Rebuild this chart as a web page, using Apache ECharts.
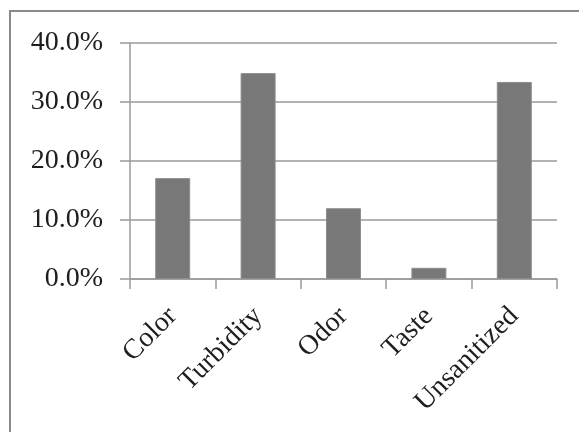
<!DOCTYPE html>
<html>
<head>
<meta charset="utf-8">
<script src="https://cdn.jsdelivr.net/npm/echarts@6/dist/echarts.min.js"></script>
<style>
  html, body { margin: 0; padding: 0; background: #fff; }
  #chart { width: 579px; height: 432px; }
</style>
</head>
<body>
<div id="chart"></div>
<script>
// Water quality complaints, share of respondents
const categories = ['Color', 'Turbidity', 'Odor', 'Taste', 'Unsanitized'];
const shares = [17.1, 34.9, 12.0, 1.9, 33.4];
const yTicks = [0, 10, 20, 30, 40];

const chart = echarts.init(document.getElementById('chart'));
const labelFont = { fontFamily: '"Liberation Serif", "Times New Roman", serif', fontSize: 28, color: '#1e1e1e' };

chart.setOption({
  animation: false,
  graphic: [{
    type: 'rect',
    shape: { x: 10, y: 11, width: 600, height: 450 },
    style: { fill: 'none', stroke: '#8a8a8a', lineWidth: 2 },
    silent: true
  }],
  grid: { left: 130, top: 43, right: 22, bottom: 153 },
  xAxis: {
    type: 'category',
    data: categories,
    axisLine: { lineStyle: { color: '#9a9a9a', width: 1.5 } },
    axisTick: { show: true, length: 10, alignWithLabel: false, lineStyle: { color: '#9a9a9a', width: 1.5 } },
    axisLabel: Object.assign({ rotate: 45, margin: 33, interval: 0 }, labelFont)
  },
  yAxis: {
    type: 'value',
    min: yTicks[0],
    max: yTicks[yTicks.length - 1],
    interval: 10,
    axisLine: { show: true, lineStyle: { color: '#9a9a9a', width: 1.5 } },
    axisTick: { show: true, length: 10, lineStyle: { color: '#9a9a9a', width: 1.5 } },
    splitLine: { lineStyle: { color: '#9a9a9a', width: 1.5 } },
    axisLabel: Object.assign({ margin: 27, formatter: v => v.toFixed(1) + '%' }, labelFont)
  },
  series: [{
    type: 'bar',
    data: shares,
    barWidth: 35,
    itemStyle: { color: '#787878', borderColor: '#8e8e8e', borderWidth: 1 }
  }]
});
</script>
</body>
</html>
